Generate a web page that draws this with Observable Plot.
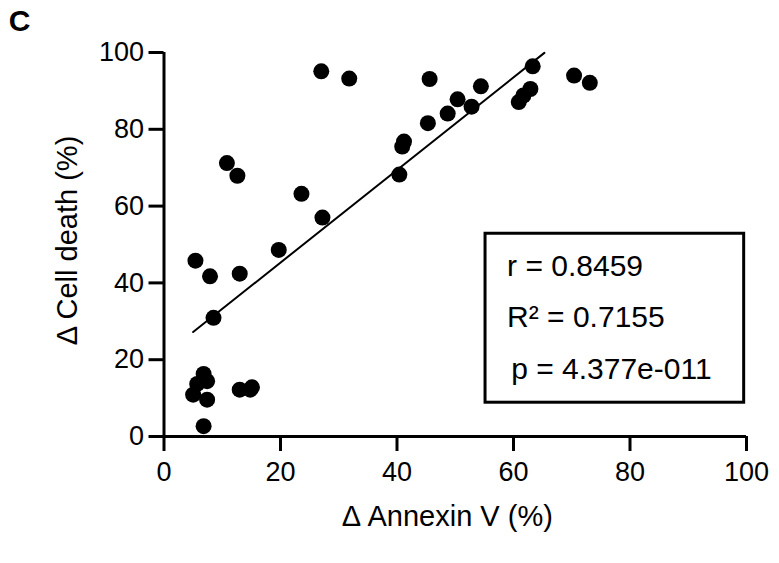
<!DOCTYPE html>
<html><head><meta charset="utf-8">
<script src="https://cdn.jsdelivr.net/npm/d3@7"></script>
<script src="https://cdn.jsdelivr.net/npm/@observablehq/plot@0.6"></script>
<style>body{margin:0;background:#fff}</style>
</head><body><div id="chart"></div>
<script>
const annexinV = [27.0, 31.8, 45.6, 50.4, 54.4, 48.7, 45.3, 52.8, 41.2, 40.9, 40.4, 10.8, 12.6, 23.6, 27.2, 19.7, 5.4, 7.9, 13.0, 8.5, 6.8, 5.7, 7.4, 5.0, 7.4, 6.8, 13.0, 14.8, 15.1, 63.3, 62.9, 61.7, 60.9, 70.4, 73.1];
const cellDeath = [95.1, 93.2, 93.1, 87.8, 91.2, 84.1, 81.6, 85.9, 76.8, 75.5, 68.2, 71.2, 67.9, 63.2, 57.0, 48.6, 45.8, 41.7, 42.4, 30.9, 16.3, 13.7, 14.4, 10.9, 9.6, 2.7, 12.2, 12.2, 12.8, 96.4, 90.5, 88.8, 87.1, 94.0, 92.1];
const fitX = [5.0, 65.3];
const fitY = [27.2, 99.9];
const xTicks = [0, 20, 40, 60, 80, 100];
const yTicks = [0, 20, 40, 60, 80, 100];
const statLines = ["r = 0.8459", "R² = 0.7155", "p = 4.377e-011"];
const panelLabel = "C";
const xLabel = "Δ Annexin V (%)";
const yLabel = "Δ Cell death (%)";

const points = annexinV.map((x, i) => ({x, y: cellDeath[i]}));
const fit = fitX.map((x, i) => ({x, y: fitY[i]}));
const stats = statLines.map((t, i) => ({t, i}));

const plot = Plot.plot({
  width: 779, height: 563,
  marginLeft: 163.5, marginRight: 33, marginTop: 52, marginBottom: 127,
  x: {domain: [0, 100]},
  y: {domain: [0, 100]},
  style: {fontFamily: "'Liberation Sans', Arial, sans-serif", fontSize: "27px", color: "#000", background: "#fff"},
  marks: [
    Plot.axisX(xTicks, {tickSize: 15, tickPadding: 10, strokeWidth: 3, fontSize: 27, label: null}),
    Plot.axisY(yTicks, {tickSize: 15, tickPadding: 5, strokeWidth: 3, fontSize: 27, label: null}),
    Plot.ruleY([0], {strokeWidth: 3, x1: 0, x2: 100}),
    Plot.ruleX([0], {strokeWidth: 3, y1: -0.4, y2: 100}),
    Plot.line(fit, {x: "x", y: "y", stroke: "black", strokeWidth: 2}),
    Plot.dot(points, {x: "x", y: "y", r: 8, fill: "black", stroke: "none"}),
    Plot.rect([0], {x1: 55.2, x2: 99.6, y1: 8.8, y2: 52.8, fill: "white", stroke: "black", strokeWidth: 3}),
    Plot.text(stats, {x: d => d.i === 2 ? 59.6 : 58.9, y: d => 44.3 - d.i * 13.4, text: "t", textAnchor: "start", lineAnchor: "middle", fontSize: 30}),
    Plot.text([xLabel], {frameAnchor: "bottom", dx: -8, dy: 80.7, fontSize: 29, lineAnchor: "middle", textAnchor: "middle"}),
    Plot.text([yLabel], {frameAnchor: "left", dx: -96, dy: -4, rotate: -90, fontSize: 29, textAnchor: "middle", lineAnchor: "middle"}),
    Plot.text([panelLabel], {frameAnchor: "top-left", dx: -144.5, dy: -31, fontSize: 30, fontWeight: "bold", textAnchor: "middle", lineAnchor: "middle"})
  ]
});
document.getElementById("chart").append(plot);
</script>
</body></html>
